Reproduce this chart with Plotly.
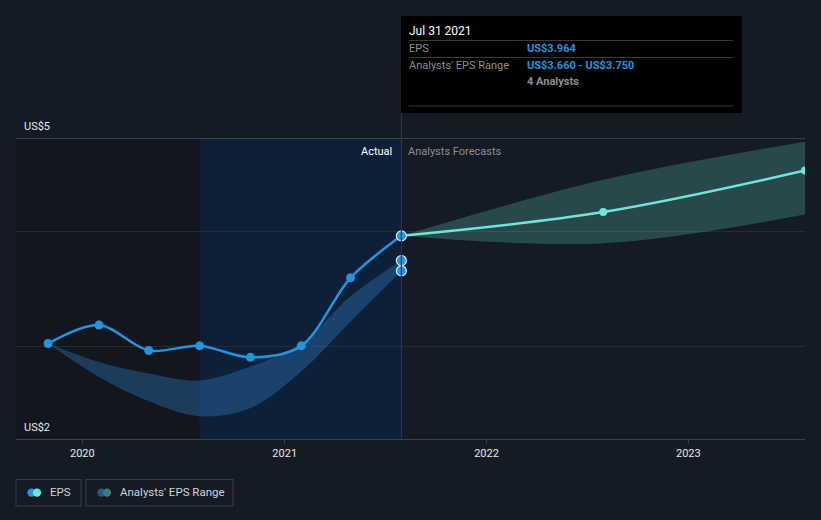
import plotly.graph_objects as go

# ---------------- data ----------------
EPS_DATES = ["2019-10-31", "2020-01-31", "2020-04-30", "2020-07-31",
             "2020-10-31", "2021-01-31", "2021-04-30", "2021-07-31"]
EPS_VALUES = [3.03, 3.19, 2.97, 3.01, 2.91, 3.01, 3.60, 3.964]
RANGE_LOW = [3.03, 2.74, 2.53, 2.40, 2.47, 2.79, 3.22, 3.66]
RANGE_HIGH = [3.03, 2.87, 2.77, 2.71, 2.83, 3.03, 3.44, 3.75]

FC_DATES = ["2021-07-31", "2022-07-31", "2023-07-31"]
FC_VALUES = [3.964, 4.17, 4.53]
FC_LOW = [3.964, 3.90, 4.15]
FC_HIGH = [3.964, 4.45, 4.78]

N_ANALYSTS = 4
TOOLTIP_DATE = "Jul 31 2021"
X_TICKS = ["2020-01-01", "2021-01-01", "2022-01-01", "2023-01-01"]
X_TICK_LABELS = ["2020", "2021", "2022", "2023"]
Y_LABELS = ["US$2", "US$5"]
Y_GRID = [3, 4]
Y_RANGE = [2.202, 4.804]
X_RANGE = ["2019-09-03", "2023-07-31"]
SHADE_DARK = ["2019-09-03", "2020-07-31"]
SHADE_ACTUAL = ["2020-07-31", "2021-07-31"]

# ---------------- styles ----------------
BG = "#151b24"
BLUE = "#2394df"
TEAL = "#6ee7d6"
FONT = "Roboto"
W, H = 821, 520
L, R, T, B = 16, 16, 139, 81
PW, PH = W - L - R, H - T - B
PAD = 2  # annotation inner padding compensation


def px(x):
    return (x - L) / PW


def py(y):
    return (H - B - y) / PH


fig = go.Figure()

# past analyst range band
fig.add_trace(go.Scatter(x=EPS_DATES, y=RANGE_LOW, mode="lines",
                         line=dict(width=0, shape="spline", smoothing=1.0),
                         hoverinfo="skip", showlegend=False))
fig.add_trace(go.Scatter(x=EPS_DATES, y=RANGE_HIGH, mode="lines",
                         line=dict(width=0, shape="spline", smoothing=1.0),
                         fill="tonexty", fillcolor="rgba(47,133,207,0.35)",
                         hoverinfo="skip", showlegend=False))
# forecast band
fig.add_trace(go.Scatter(x=FC_DATES, y=FC_LOW, mode="lines",
                         line=dict(width=0, shape="spline", smoothing=1.0),
                         hoverinfo="skip", showlegend=False))
fig.add_trace(go.Scatter(x=FC_DATES, y=FC_HIGH, mode="lines",
                         line=dict(width=0, shape="spline", smoothing=1.0),
                         fill="tonexty", fillcolor="rgba(110,231,214,0.22)",
                         hoverinfo="skip", showlegend=False))
# forecast line
fig.add_trace(go.Scatter(x=FC_DATES, y=FC_VALUES, mode="lines+markers",
                         line=dict(color=TEAL, width=2.5, shape="spline", smoothing=1.0),
                         marker=dict(size=8, color=TEAL),
                         showlegend=False))
# EPS line
fig.add_trace(go.Scatter(x=EPS_DATES, y=EPS_VALUES, mode="lines+markers",
                         line=dict(color=BLUE, width=2.5, shape="spline", smoothing=0.9),
                         marker=dict(size=9, color=BLUE),
                         showlegend=False))
# highlighted points (hover)
fig.add_trace(go.Scatter(x=[EPS_DATES[-1]] * 3,
                         y=[EPS_VALUES[-1], RANGE_HIGH[-1], RANGE_LOW[-1]],
                         mode="markers",
                         marker=dict(size=10, color=BLUE, line=dict(color="#d8ecff", width=1.2)),
                         showlegend=False))

shapes = [
    dict(type="rect", xref="x", yref="paper", x0=SHADE_DARK[0], x1=SHADE_DARK[1],
         y0=0, y1=1, fillcolor="#12161e", line_width=0, layer="below"),
    dict(type="rect", xref="x", yref="paper", x0=SHADE_ACTUAL[0], x1=SHADE_ACTUAL[1],
         y0=0, y1=1, fillcolor="#0e1f38", line_width=0, layer="below"),
    dict(type="line", xref="x", yref="paper", x0=SHADE_ACTUAL[1], x1=SHADE_ACTUAL[1],
         y0=0, y1=py(113), line=dict(color="#1b3862", width=1.2)),
    # tooltip
    dict(type="rect", xref="paper", yref="paper", x0=px(401), x1=px(742),
         y0=py(113), y1=py(16), fillcolor="#000000", line_width=0),
]
for yy in (40.5, 57.5, 106):
    shapes.append(dict(type="line", xref="paper", yref="paper", x0=px(409), x1=px(733),
                       y0=py(yy), y1=py(yy), line=dict(color="#3a3a3a", width=1)))

# legend boxes
for x0, x1 in ((16, 81), (86, 233)):
    shapes.append(dict(type="rect", xref="paper", yref="paper", x0=px(x0), x1=px(x1),
                       y0=py(506), y1=py(479.5), line=dict(color="#3a404a", width=1),
                       fillcolor="rgba(0,0,0,0)"))
for cx, col in ((31.5, BLUE), (37, TEAL), (101.5, "#1f5c8c"), (107, "#3d7b78")):
    shapes.append(dict(type="circle", xref="paper", yref="paper",
                       x0=px(cx - 4.2), x1=px(cx + 4.2), y0=py(496.8), y1=py(488.4),
                       fillcolor=col, line_width=0))


def label(x, y, text, color, size=11, anchor="left"):
    return dict(xref="paper", yref="paper", x=px(x - PAD if anchor == "left" else x + PAD),
                y=py(y), text=text, showarrow=False, xanchor=anchor, yanchor="middle",
                font=dict(color=color, size=size))


annotations = [
    label(24, 127, Y_LABELS[1], "#e6e6e6"),
    label(24, 427, Y_LABELS[0], "#e6e6e6"),
    dict(xref="x", yref="paper", x=SHADE_ACTUAL[1], xshift=-7, y=py(151), text="Actual",
         showarrow=False, xanchor="right", yanchor="middle", font=dict(color="#ffffff", size=11)),
    dict(xref="x", yref="paper", x=SHADE_ACTUAL[1], xshift=5, y=py(151), text="Analysts Forecasts",
         showarrow=False, xanchor="left", yanchor="middle", font=dict(color="#8a8f97", size=11)),
    # tooltip text
    label(409, 31, TOOLTIP_DATE, "#ffffff", size=12),
    label(409, 48.5, "EPS", "#8f8f8f"),
    label(527, 48.5, f"<b>US${EPS_VALUES[-1]:.3f}</b>", BLUE),
    label(409, 65.5, "Analysts' EPS Range", "#8f8f8f"),
    label(527, 65.5, f"<b>US${RANGE_LOW[-1]:.3f} - US${RANGE_HIGH[-1]:.3f}</b>", BLUE),
    label(527, 81, f"<b>{N_ANALYSTS} Analysts</b>", "#8f8f8f"),
    # legend text
    label(50, 492.5, "EPS", "#d0d3d8", size=11.5),
    label(120, 492.5, "Analysts' EPS Range", "#d0d3d8", size=11.5),
]

fig.update_layout(
    width=W, height=H,
    margin=dict(l=L, r=R, t=T, b=B),
    paper_bgcolor=BG, plot_bgcolor=BG,
    font=dict(family=FONT, color="#e6e6e6", size=11),
    showlegend=False,
    shapes=shapes,
    annotations=annotations,
    hovermode=False,
    xaxis=dict(range=X_RANGE, type="date", tickvals=X_TICKS, ticktext=X_TICK_LABELS,
               showgrid=False, showline=True, linecolor="#3b414a", linewidth=1, mirror=True,
               ticks="outside", ticklen=4, tickcolor="#3b414a",
               tickfont=dict(color="#e6e6e6", size=11), zeroline=False, fixedrange=True),
    yaxis=dict(range=Y_RANGE, tickvals=Y_GRID, showticklabels=False, showgrid=True,
               gridcolor="#262c36", gridwidth=1, zeroline=False, showline=False, fixedrange=True),
)

fig.write_html(
    "out.html",
    config={"displayModeBar": False},
    post_script="document.body.style.margin='0';document.body.style.background='#151b24';"
                "document.body.style.overflow='hidden';",
)
